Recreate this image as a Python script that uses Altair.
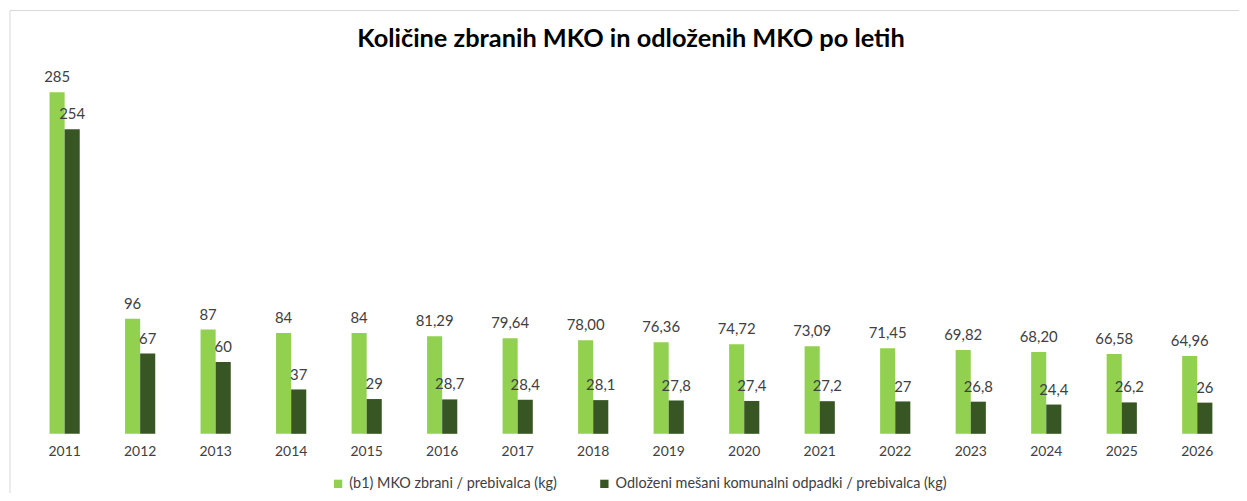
import altair as alt
import pandas as pd

years = ["2011", "2012", "2013", "2014", "2015", "2016", "2017", "2018",
         "2019", "2020", "2021", "2022", "2023", "2024", "2025", "2026"]
series_names = ["(b1) MKO zbrani / prebivalca (kg)",
                "Odloženi mešani komunalni odpadki / prebivalca (kg)"]
collected = [285, 96, 87, 84, 84, 81.29, 79.64, 78.00, 76.36, 74.72,
             73.09, 71.45, 69.82, 68.20, 66.58, 64.96]
collected_labels = ["285", "96", "87", "84", "84", "81,29", "79,64", "78,00",
                    "76,36", "74,72", "73,09", "71,45", "69,82", "68,20",
                    "66,58", "64,96"]
landfilled = [254, 67, 60, 37, 29, 28.7, 28.4, 28.1, 27.8, 27.4, 27.2, 27,
              26.8, 24.4, 26.2, 26]
landfilled_labels = ["254", "67", "60", "37", "29", "28,7", "28,4", "28,1",
                     "27,8", "27,4", "27,2", "27", "26,8", "24,4", "26,2", "26"]
colors = ["#92D050", "#375623"]

rows = []
for i, y in enumerate(years):
    rows.append({"year": y, "series": series_names[0], "value": collected[i],
                 "label": collected_labels[i]})
    rows.append({"year": y, "series": series_names[1], "value": landfilled[i],
                 "label": landfilled_labels[i]})
df = pd.DataFrame(rows)

FONT = "Lato"

x = alt.X("year:N", title=None, sort=years,
          scale=alt.Scale(paddingInner=0.6, paddingOuter=0.3),
          axis=alt.Axis(domain=False, ticks=False, labelAngle=0,
                        labelFontSize=14, labelColor="#404040",
                        labelFont=FONT, labelPadding=11))
xoff = alt.XOffset("series:N", sort=series_names)
y = alt.Y("value:Q", title=None, scale=alt.Scale(domain=[0, 300], nice=False),
          axis=None)

base = alt.Chart(df)

bars = base.mark_bar().encode(
    x=x, xOffset=xoff, y=y,
    color=alt.Color("series:N", sort=series_names,
                    scale=alt.Scale(domain=series_names, range=colors),
                    legend=alt.Legend(title=None, orient="none",
                                      legendX=306, legendY=405,
                                      direction="horizontal",
                                      symbolType="square", symbolSize=70,
                                      symbolStrokeWidth=0,
                                      labelFontSize=14.5, labelFont=FONT,
                                      labelColor="#404040",
                                      columnPadding=40,
                                      labelLimit=500)),
)

labels = base.mark_text(baseline="bottom", dy=-7, fontSize=15, font=FONT,
                        color="#404040").encode(
    x=x, xOffset=xoff, y=y, text="label:N"
)

frame_left = alt.Chart(pd.DataFrame({"k": [0]})).mark_rule(
    color="#d9d9d9", strokeWidth=1).encode(
    x=alt.value(-17), y=alt.value(-64), y2=alt.value(440))
frame_top = alt.Chart(pd.DataFrame({"k": [0]})).mark_rule(
    color="#d9d9d9", strokeWidth=1).encode(
    x=alt.value(-17), x2=alt.value(1225), y=alt.value(-64))

chart = alt.layer(frame_left, frame_top, bars, labels).properties(
    width=1216, height=362,
    autosize=alt.AutoSizeParams(type="none"),
    padding={"left": 19, "top": 65, "right": 4, "bottom": 58},
    title=alt.TitleParams(
        "Količine zbranih MKO in odloženih MKO po letih",
        font=FONT, fontSize=25.5, fontWeight="bold", color="#000000",
        anchor="middle", offset=-43),
).configure(background="white").configure_view(stroke=None)

chart.save("out.html", embed_options={"renderer": "svg", "actions": False})
